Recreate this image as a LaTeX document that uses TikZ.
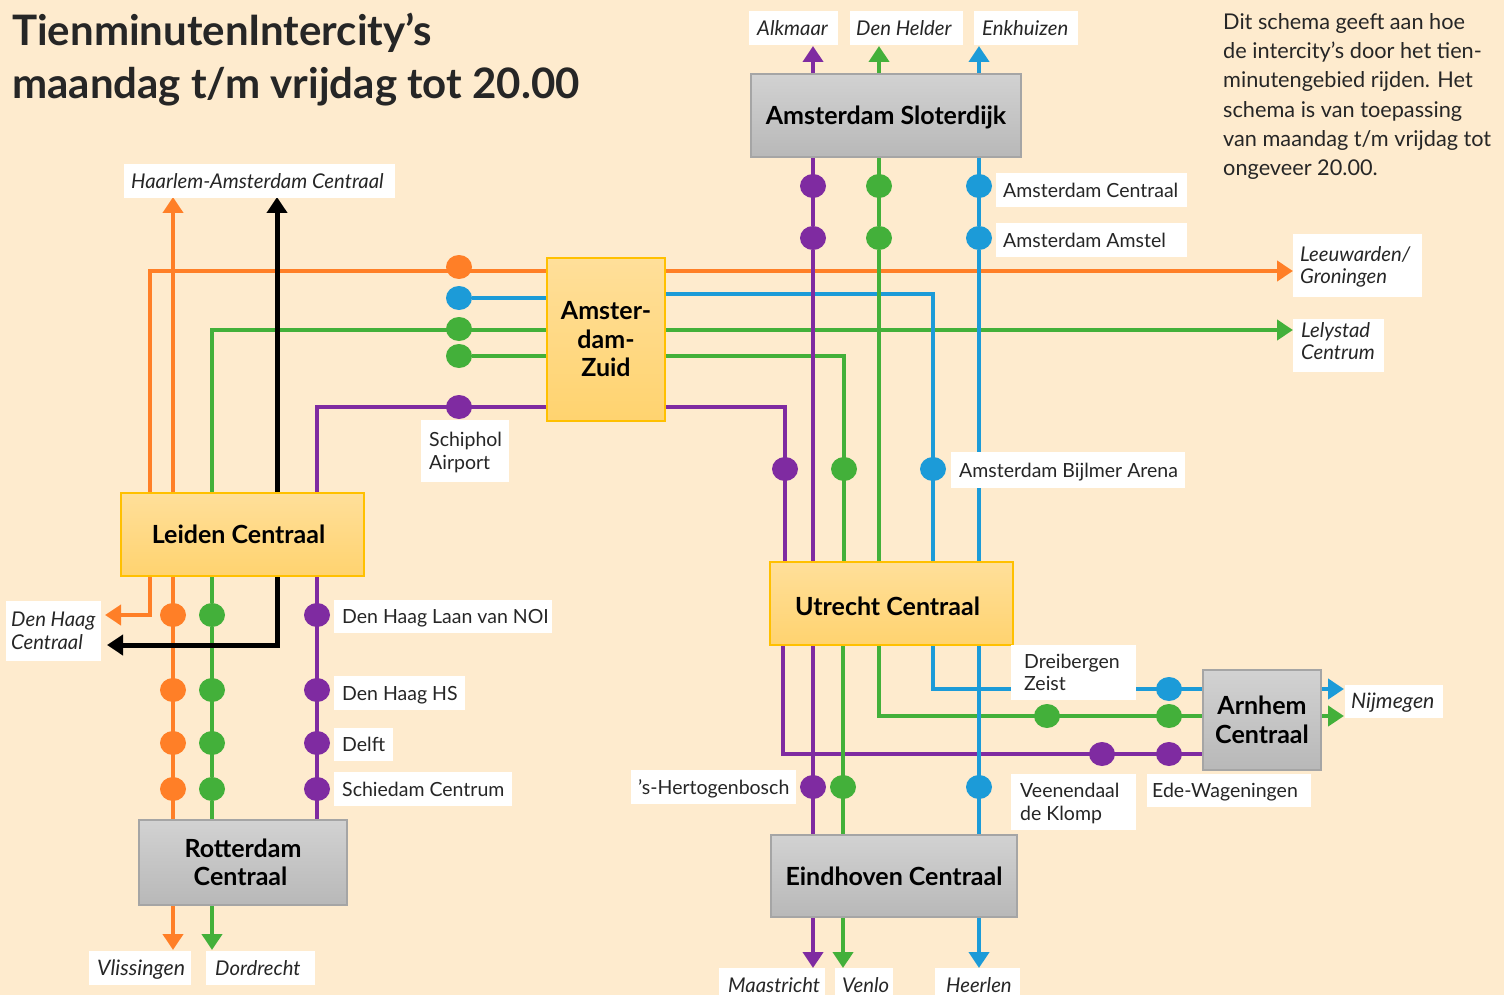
\documentclass[tikz,border=0pt]{standalone}
\usepackage{fontspec}
\setmainfont{Lato}
\usetikzlibrary{arrows.meta,shapes.geometric,backgrounds}
\definecolor{bgc}{HTML}{FEEBCE}
\definecolor{co}{HTML}{FF7F27}
\definecolor{cg}{HTML}{43B03A}
\definecolor{cb}{HTML}{1C9BD8}
\definecolor{cp}{HTML}{7F2BA1}
\definecolor{tx}{HTML}{262626}
\definecolor{gt}{HTML}{D2D2D2}
\definecolor{gb}{HTML}{B8B8B8}
\definecolor{gl}{HTML}{A5A5A5}
\definecolor{yt}{HTML}{FFDF9A}
\definecolor{yb}{HTML}{FFD36F}
\definecolor{yl}{HTML}{FFC000}
\tikzset{
  x=1pt,y=-1pt,
  lin/.style={line width=4.5pt,-{Triangle[length=16pt,width=20pt]}},
  nol/.style={line width=4.5pt},
  blk/.style={line width=5pt,draw=black},
  boxfont/.style={align=center,inner sep=0pt,font=\fontsize{25}{28.5}\selectfont\bfseries,text=black},
  graybox/.style={draw=gl,line width=1.2pt,top color=gt,bottom color=gb,boxfont},
  yelbox/.style={draw=yl,line width=1.2pt,top color=yt,bottom color=yb,boxfont},
  whitebox/.style={fill=white,inner sep=0pt,anchor=west},
  lab/.style={inner sep=0pt,align=left,anchor=west,text=tx,font=\fontsize{19.5}{22.6}\selectfont},
  ital/.style={font=\fontsize{20.3}{22.6}\selectfont\itshape},
  italb/.style={font=\fontsize{21.3}{22.6}\selectfont\itshape},
  dot/.style={ellipse,minimum width=26pt,minimum height=24pt,inner sep=0pt,fill=#1,draw=none},
}
\newcommand\bx[7]{\node[#2,minimum width=\the\numexpr#5-#3\relax pt,minimum height=\the\numexpr#6-#4\relax pt] (#1) at ({(#3+#5)/2},{(#4+#6)/2}) {#7};}
% name, text style, x1, y1, x2, y2, text offset x and y, text
\newcommand\lb[9]{\node[whitebox,minimum width=\the\numexpr#5-#3\relax pt,minimum height=\the\numexpr#6-#4\relax pt] (#1) at (#3,{(#4+#6)/2}) {};
  \lbtext{#1}{#2}{#7}{#8}{#9}}
\newcommand\lbtext[5]{\node[lab,#2] (#1-t) at ([xshift=#3pt,yshift={(#4-2.5)*1pt}]#1.west) {\strut #5\strut};}
\newcommand\dt[4]{\node[dot=#2] (#1) at (#3,#4) {};}
\begin{document}
\begin{tikzpicture}
\useasboundingbox (0,0) rectangle (1504,995);
% title
\node[anchor=west,inner sep=0pt,text=tx,font=\fontsize{42}{53}\selectfont\bfseries,align=left] (title) at (12,60) {TienminutenIntercity’s\\maandag t/m vrijdag tot 20.00};
\node[anchor=north west,inner sep=0pt,text=tx,font=\fontsize{21.7}{29.3}\selectfont,align=left] (intro) at (1223,13) {Dit schema geeft aan hoe\\de intercity’s door het tien-\\minutengebied rijden. Het\\schema is van toepassing\\van maandag t/m vrijdag tot\\ongeveer 20.00.};
% stations
\bx{slo}{graybox}{751}{74}{1021}{157}{\raisebox{-9.5pt}[0pt][0pt]{Amsterdam Sloterdijk}}
\bx{zui}{yelbox}{547}{258}{665}{421}{Amster-\\dam-\\Zuid}
\bx{lei}{yelbox}{121}{493}{364}{576}{\hspace*{-8pt}Leiden Centraal}
\bx{utr}{yelbox}{770}{562}{1013}{645}{\hspace*{-8pt}\raisebox{-12pt}[0pt][0pt]{Utrecht Centraal}}
\bx{rot}{graybox}{139}{820}{347}{905}{Rotterdam\\\hspace*{-5pt}Centraal}
\bx{ein}{graybox}{771}{835}{1017}{917}{Eindhoven Centraal}
\bx{arn}{graybox}{1203}{670}{1321}{770}{Arnhem\\Centraal}
% labels
\lb{haa}{ital}{124}{164}{395}{198}{7}{0}{Haarlem-Amsterdam Centraal}
\lb{lee}{ital}{1293}{234}{1422}{297}{7}{0}{Leeuwarden/\\Groningen}
\lb{lel}{ital}{1293}{319}{1384}{372}{8}{4}{Lelystad\\Centrum}
\lb{sch}{}{421}{420}{509}{482}{8}{0}{Schiphol\\Airport}
\lb{dhc}{ital}{6}{601}{101}{661}{5}{0}{Den Haag\\Centraal}
\lb{dhl}{}{334}{600}{552}{633}{8}{0}{Den Haag Laan van NOI}
\lb{dhh}{}{334}{676}{465}{710}{8}{0}{Den Haag HS}
\lb{del}{}{334}{728}{393}{761}{8}{0}{Delft}
\lb{sce}{}{334}{772}{512}{806}{8}{0}{Schiedam Centrum}
\lb{vli}{italb}{89}{951}{191}{985}{8}{0}{Vlissingen}
\lb{dor}{ital}{206}{951}{315}{985}{9}{0}{Dordrecht}
\lb{her}{}{631}{770}{796}{804}{7}{0}{’s-Hertogenbosch}
\lb{maa}{ital}{719}{968}{825}{1006}{9}{2}{Maastricht}
\lb{ven}{ital}{835}{968}{893}{1006}{7}{2}{Venlo}
\lb{hee}{ital}{935}{968}{1020}{1006}{11}{2}{Heerlen}
\lb{ace}{}{996}{173}{1187}{207}{7}{0}{Amsterdam Centraal}
\lb{aam}{}{996}{223}{1187}{257}{7}{0}{Amsterdam Amstel}
\lb{abi}{}{951}{452}{1185}{488}{8}{0}{Amsterdam Bijlmer Arena}
\lb{dre}{}{1011}{645}{1136}{700}{13}{0}{Dreibergen\\Zeist}
\lb{vee}{}{1011}{774}{1136}{830}{9}{0}{Veenendaal\\de Klomp}
\lb{ede}{}{1147}{774}{1311}{807}{5}{0}{Ede-Wageningen}
\lb{nij}{italb}{1345}{685}{1443}{718}{6}{0}{Nijmegen}
\lb{alk}{ital}{749}{11}{838}{45}{8}{0}{Alkmaar}
\lb{hel}{ital}{850}{11}{963}{45}{6}{0}{Den Helder}
\lb{enk}{ital}{974}{11}{1078}{45}{8}{0}{Enkhuizen}
% stops
\dt{zo}{co}{459}{267}\dt{zb}{cb}{459}{298}\dt{zg}{cg}{459}{329}\dt{zh}{cg}{459}{356}\dt{zp}{cp}{459}{407}
\dt{sp1}{cp}{813}{186}\dt{sp2}{cp}{813}{238}\dt{sg1}{cg}{879}{186}\dt{sg2}{cg}{879}{238}\dt{sb1}{cb}{979}{186}\dt{sb2}{cb}{979}{238}
\dt{bp}{cp}{785}{469}\dt{bg}{cg}{844}{469}\dt{bb}{cb}{933}{469}
\dt{lo1}{co}{173}{615}\dt{lo2}{co}{173}{690}\dt{lo3}{co}{173}{743}\dt{lo4}{co}{173}{789}
\dt{lg1}{cg}{212}{615}\dt{lg2}{cg}{212}{690}\dt{lg3}{cg}{212}{743}\dt{lg4}{cg}{212}{789}
\dt{lp1}{cp}{317}{615}\dt{lp2}{cp}{317}{690}\dt{lp3}{cp}{317}{743}\dt{lp4}{cp}{317}{789}
\dt{ab}{cb}{1169}{689}\dt{ag0}{cg}{1047}{716}\dt{ag}{cg}{1169}{716}\dt{ap0}{cp}{1102}{754}\dt{ap}{cp}{1169}{754}
\dt{ep}{cp}{813}{787}\dt{eg}{cg}{843}{787}\dt{eb}{cb}{979}{787}
% free ends and bends
\foreach \n/\x/\y in {
  tAlk/813/46,tHel/879/46,tEnk/979/46,
  tHao/173/197,tHak/277/197,tDho/105/615,tDhk/107/645,
  tLee/1293/271,tLel/1293/330,tVli/173/950,tDor/212/950,
  tMaa/813/968,tVen/843/968,tHee/979/968,tNb/1344/689,tNg/1344/716,
  o1/150/271,o2/150/493,o3/150/576,o4/150/615,
  g1/212/330,p1/317/407,k1/277/645,
  b1/933/294,h1/844/356,q1/785/407,q2/785/562,
  q3/783/645,q4/783/754,b3/933/645,b4/933/689,g3/879/645,g4/879/716,
  rb/665/294}
  {\coordinate (\n) at (\x,\y);}
% lines
\begin{scope}[on background layer]
\fill[bgc] (0,0) rectangle (1504,995);
\draw[lin,draw=co] (o2) -- (o1) -- (tLee);
\draw[lin,draw=co] (o3) -- (o4) -- (tDho);
\draw[lin,draw=co] (lo1 |- lei.north) -- (tHao);
\draw[lin,draw=co] (lo1 |- lei.south) -- (tVli);
\draw[nol,draw=cg] (lg4) -- (lg1);
\draw[lin,draw=cg] (lg1) -- (g1) -- (tLel);
\draw[lin,draw=cg] (lg4) -- (tDor);
\draw[lin,blk] (k1) -- (tHak);
\draw[lin,blk] (lei.south -| k1) -- (k1) -- (tDhk);
\draw[nol,draw=cp] (rot.north -| lp4) -- (p1) -- (q1) -- (q2);
\draw[nol,draw=cp] (q3) -- (q4) -- (arn.west |- ap);
\draw[nol,draw=cb] (zb) -- (zui.west |- zb);
\draw[nol,draw=cb] (rb) -- (b1) -- (utr.north -| bb);
\draw[lin,draw=cb] (b3) -- (b4) -- (tNb);
\draw[nol,draw=cg] (zh) -- (h1) -- (utr.north -| bg);
\draw[lin,draw=cg] (utr.south -| eg) -- (tVen);
\draw[lin,draw=cg] (g3) -- (g4) -- (tNg);
\draw[lin,draw=cg] (sg2) -- (tHel);
\draw[nol,draw=cg] (sg2) -- (utr.north -| sg2);
\draw[lin,draw=cp] (sp2) -- (tAlk);
\draw[lin,draw=cp] (sp2) -- (tMaa);
\draw[lin,draw=cb] (sb2) -- (tEnk);
\draw[lin,draw=cb] (sb2) -- (tHee);
\end{scope}
\end{tikzpicture}
\end{document}
